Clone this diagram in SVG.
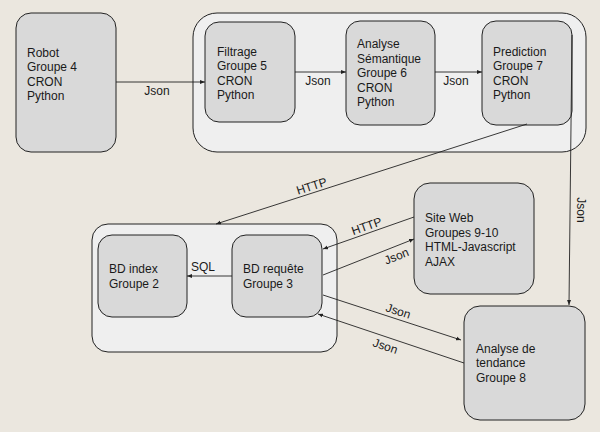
<svg xmlns="http://www.w3.org/2000/svg" width="600" height="432" viewBox="0 0 600 432">
<defs>
<style>
.bg{fill:#ebe7df}
.cont{fill:#efefef;stroke:#222;stroke-width:1}
.node{fill:#d9d9d9;stroke:#222;stroke-width:1}
text{font-family:"Liberation Sans",Arial,sans-serif;font-size:12px;fill:#1a1a1a}
.lbl{text-anchor:middle}
.edge{stroke:#222;stroke-width:0.9;fill:none;marker-end:url(#ah)}
</style>
<marker id="ah" viewBox="0 0 10 10" refX="10" refY="5" markerWidth="5" markerHeight="5" orient="auto" markerUnits="userSpaceOnUse">
<path d="M0,1 L10,5 L0,9 z" fill="#222"/>
</marker>
</defs>
<rect class="bg" x="0" y="0" width="600" height="432"/>

<g id="pipeline-container">
<rect class="cont" x="193" y="13" width="393" height="139" rx="24"/>
</g>
<g id="db-container">
<rect class="cont" x="92" y="224" width="245" height="128" rx="16"/>
</g>

<g id="robot">
<rect class="node" x="16" y="13" width="100" height="139" rx="15"/>
<text x="27" y="57">Robot</text>
<text x="27" y="71">Groupe 4</text>
<text x="27" y="86">CRON</text>
<text x="27" y="100">Python</text>
</g>
<g id="filtrage">
<rect class="node" x="205" y="22" width="90" height="100" rx="14"/>
<text x="217" y="56">Filtrage</text>
<text x="217" y="70">Groupe 5</text>
<text x="217" y="85">CRON</text>
<text x="217" y="99">Python</text>
</g>
<g id="analyse">
<rect class="node" x="346" y="21" width="89" height="104" rx="14"/>
<text x="357" y="48">Analyse</text>
<text x="357" y="63">Sémantique</text>
<text x="357" y="77">Groupe 6</text>
<text x="357" y="92">CRON</text>
<text x="357" y="106">Python</text>
</g>
<g id="prediction">
<rect class="node" x="482" y="21" width="90" height="104" rx="14"/>
<text x="493" y="56">Prediction</text>
<text x="493" y="70">Groupe 7</text>
<text x="493" y="85">CRON</text>
<text x="493" y="99">Python</text>
</g>
<g id="bd-index">
<rect class="node" x="98" y="235" width="89" height="82" rx="14"/>
<text x="109" y="273">BD index</text>
<text x="109" y="288">Groupe 2</text>
</g>
<g id="bd-requete">
<rect class="node" x="232" y="235" width="90" height="82" rx="14"/>
<text x="243" y="273">BD requête</text>
<text x="243" y="288">Groupe 3</text>
</g>
<g id="site-web">
<rect class="node" x="414" y="183" width="120" height="111" rx="16"/>
<text x="425" y="222">Site Web</text>
<text x="425" y="237">Groupes 9-10</text>
<text x="425" y="251">HTML-Javascript</text>
<text x="425" y="266">AJAX</text>
</g>
<g id="tendance">
<rect class="node" x="464" y="306" width="121" height="114" rx="16"/>
<text x="476" y="353">Analyse de</text>
<text x="476" y="367">tendance</text>
<text x="476" y="382">Groupe 8</text>
</g>

<g id="connectors">
<line class="edge" x1="116" y1="82" x2="205" y2="82"/>
<text class="lbl" x="157" y="95">Json</text>
<line class="edge" x1="295" y1="72" x2="346" y2="72"/>
<text class="lbl" x="318" y="85">Json</text>
<line class="edge" x1="435" y1="72" x2="482" y2="72"/>
<text class="lbl" x="456" y="85">Json</text>

<line class="edge" x1="572" y1="35" x2="569" y2="305"/>
<text class="lbl" x="0" y="0" transform="translate(577,210) rotate(90)">Json</text>

<line class="edge" x1="527" y1="124" x2="216" y2="224"/>
<text class="lbl" x="0" y="0" transform="translate(313,190) rotate(-17.8)">HTTP</text>

<line class="edge" x1="232" y1="276" x2="187" y2="276"/>
<text class="lbl" x="203" y="271">SQL</text>

<line class="edge" x1="414" y1="217" x2="323" y2="249"/>
<text class="lbl" x="0" y="0" transform="translate(368,230) rotate(-19.4)">HTTP</text>

<line class="edge" x1="323" y1="275" x2="414" y2="239"/>
<text class="lbl" x="0" y="0" transform="translate(398,260) rotate(-21.6)">Json</text>

<line class="edge" x1="323" y1="295" x2="461" y2="340"/>
<text class="lbl" x="0" y="0" transform="translate(397,315) rotate(18)">Json</text>

<line class="edge" x1="464" y1="363" x2="318" y2="314"/>
<text class="lbl" x="0" y="0" transform="translate(384,350) rotate(18.5)">Json</text>
</g>
</svg>
